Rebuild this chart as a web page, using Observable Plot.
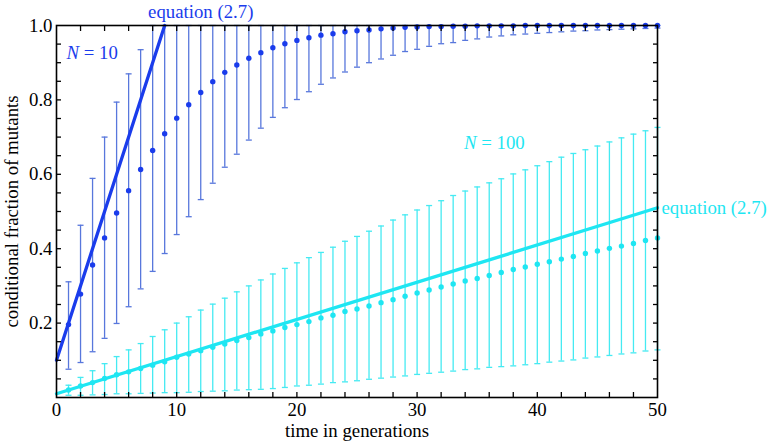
<!DOCTYPE html>
<html>
<head>
<meta charset="utf-8">
<script src="https://cdn.jsdelivr.net/npm/d3@7"></script>
<script src="https://cdn.jsdelivr.net/npm/@observablehq/plot@0.6"></script>
<style>
  html, body { margin: 0; padding: 0; background: #fff; }
  svg text { font-family: "Liberation Serif", "Times New Roman", serif !important; }
</style>
</head>
<body>
<div id="chart"></div>
<script>
// generations
const generations = [1,2,3,4,5,6,7,8,9,10,11,12,13,14,15,16,17,18,19,20,21,22,23,24,25,26,27,28,29,30,31,32,33,34,35,36,37,38,39,40,41,42,43,44,45,46,47,48,49,50];

// N = 10 : simulated mean and error bar bounds
const n10Mean = [0.196,0.278,0.356,0.429,0.496,0.556,0.613,0.664,0.709,0.751,
                 0.787,0.820,0.849,0.874,0.894,0.912,0.927,0.940,0.951,0.960,
                 0.967,0.974,0.978,0.983,0.986,0.988,0.991,0.993,0.995,0.996,
                 0.997,0.997,0.998,0.998,0.999,0.999,0.999,0.999,1.0,1.0,
                 1.0,1.0,1.0,1.0,1.0,1.0,1.0,1.0,1.0,1.0];
const n10Lo = [0.076,0.094,0.123,0.159,0.199,0.244,0.292,0.339,0.387,0.438,
               0.486,0.532,0.576,0.619,0.654,0.692,0.724,0.753,0.779,0.801,
               0.822,0.842,0.859,0.875,0.888,0.900,0.910,0.920,0.930,0.936,
               0.944,0.951,0.954,0.960,0.964,0.969,0.972,0.975,0.977,0.979,
               0.981,0.983,0.985,0.986,0.988,0.989,0.990,0.991,0.992,0.993];
const n10Hi = [0.311,0.463,0.589,0.700,0.794,0.870,0.935,1.0,1.0,1.0,
               1.0,1.0,1.0,1.0,1.0,1.0,1.0,1.0,1.0,1.0,
               1.0,1.0,1.0,1.0,1.0,1.0,1.0,1.0,1.0,1.0,
               1.0,1.0,1.0,1.0,1.0,1.0,1.0,1.0,1.0,1.0,
               1.0,1.0,1.0,1.0,1.0,1.0,1.0,1.0,1.0,1.0];

// N = 100 : simulated mean and error bar bounds
const n100Mean = [0.020,0.031,0.040,0.051,0.061,0.069,0.078,0.087,0.096,0.108,
                  0.117,0.126,0.135,0.144,0.153,0.161,0.171,0.179,0.188,0.196,
                  0.204,0.214,0.221,0.231,0.238,0.246,0.255,0.263,0.272,0.281,
                  0.289,0.297,0.305,0.313,0.320,0.328,0.336,0.344,0.351,0.358,
                  0.365,0.372,0.379,0.387,0.394,0.401,0.407,0.414,0.422,0.429];
const n100Lo = [0.006,0.006,0.007,0.008,0.010,0.010,0.011,0.012,0.013,0.013,
                0.014,0.016,0.017,0.018,0.020,0.021,0.022,0.024,0.027,0.031,
                0.033,0.036,0.040,0.042,0.045,0.049,0.052,0.055,0.058,0.062,
                0.065,0.068,0.071,0.075,0.077,0.081,0.083,0.085,0.088,0.091,
                0.095,0.098,0.101,0.106,0.109,0.113,0.117,0.120,0.125,0.128];
const n100Hi = [0.033,0.054,0.072,0.091,0.110,0.128,0.145,0.164,0.182,0.200,
                0.217,0.235,0.251,0.267,0.284,0.300,0.316,0.332,0.347,0.362,
                0.376,0.390,0.404,0.420,0.433,0.447,0.461,0.477,0.491,0.504,
                0.516,0.529,0.543,0.555,0.566,0.577,0.588,0.601,0.612,0.623,
                0.634,0.646,0.656,0.666,0.676,0.687,0.698,0.708,0.717,0.726];

// equation (2.7) line end points
const eqN10T = [0, 9];
const eqN10Y = [0.1, 1.0];
const eqN100T = [0, 50];
const eqN100Y = [0.01, 0.51];

// axis ticks
const xTickLabels = [0, 10, 20, 30, 40, 50];
const xMinorTicks = [2,4,6,8,10,12,14,16,18,20,22,24,26,28,30,32,34,36,38,40,42,44,46,48];
const yTickLabels = [0.2, 0.4, 0.6, 0.8, 1.0];
const yMinorTicks = [0.05,0.1,0.15,0.2,0.25,0.3,0.35,0.4,0.45,0.5,0.55,0.6,0.65,0.7,0.75,0.8,0.85,0.9,0.95];

// build tables
const n10 = generations.map((t, i) => ({t, mean: n10Mean[i], lo: n10Lo[i], hi: n10Hi[i]}));
const n100 = generations.map((t, i) => ({t, mean: n100Mean[i], lo: n100Lo[i], hi: n100Hi[i]}));
const eq10 = eqN10T.map((t, i) => ({t, y: eqN10Y[i]}));
const eq100 = eqN100T.map((t, i) => ({t, y: eqN100Y[i]}));

const BLUE = "#1a3cec";
const BLUE_BAR = "#5877dc";
const CYAN = "#1ee6f2";
const CYAN_BAR = "#45eaf2";
const FONT = '"Liberation Serif", "Times New Roman", serif';
const FS = 18.8;

const cap = {
  draw(context, size) {
    const w = Math.sqrt(size / Math.PI);
    context.moveTo(-w, 0);
    context.lineTo(w, 0);
  }
};

const noLabel = () => "";

const plot = Plot.plot({
  width: 768,
  height: 443,
  marginLeft: 56,
  marginRight: 111,
  marginTop: 25,
  marginBottom: 46,
  style: {fontFamily: FONT, fontSize: FS + "px", background: "#fff", color: "#000"},
  x: {domain: [0, 50], axis: null},
  y: {domain: [0, 1], axis: null},
  marks: [
    // N = 100 error bars
    Plot.ruleX(n100, {x: "t", y1: "lo", y2: "hi", stroke: CYAN_BAR, strokeWidth: 1.3}),
    Plot.dot(n100, {x: "t", y: "lo", symbol: cap, r: 3, stroke: CYAN_BAR, strokeWidth: 1.3, fill: "none"}),
    Plot.dot(n100, {x: "t", y: "hi", symbol: cap, r: 3, stroke: CYAN_BAR, strokeWidth: 1.3, fill: "none"}),
    // N = 10 error bars
    Plot.ruleX(n10, {x: "t", y1: "lo", y2: "hi", stroke: BLUE_BAR, strokeWidth: 1.3}),
    Plot.dot(n10, {x: "t", y: "lo", symbol: cap, r: 3, stroke: BLUE_BAR, strokeWidth: 1.3, fill: "none"}),
    Plot.dot(n10, {x: "t", y: "hi", symbol: cap, r: 3, stroke: BLUE_BAR, strokeWidth: 1.3, fill: "none"}),
    // equation lines
    Plot.line(eq100, {x: "t", y: "y", stroke: CYAN, strokeWidth: 3.3}),
    Plot.line(eq10, {x: "t", y: "y", stroke: BLUE, strokeWidth: 3.3}),
    // means
    Plot.dot(n100, {x: "t", y: "mean", r: 2.7, fill: CYAN, stroke: "none"}),
    Plot.dot(n10, {x: "t", y: "mean", r: 2.7, fill: BLUE, stroke: "none"}),
    // frame
    Plot.frame({stroke: "#000", strokeWidth: 1.6}),
    // inward ticks
    Plot.axisX(xMinorTicks, {anchor: "bottom", tickSize: -5, tickFormat: noLabel, label: null, strokeWidth: 1.3}),
    Plot.axisX(xMinorTicks, {anchor: "top", tickSize: -5, tickFormat: noLabel, label: null, strokeWidth: 1.3}),
    Plot.axisY(yMinorTicks, {anchor: "left", tickSize: -5, tickFormat: noLabel, label: null, strokeWidth: 1.3}),
    Plot.axisY(yMinorTicks, {anchor: "right", tickSize: -5, tickFormat: noLabel, label: null, strokeWidth: 1.3}),
    // tick labels
    Plot.axisX(xTickLabels, {anchor: "bottom", tickSize: 0, tickPadding: 5, fontSize: FS, label: null, fill: "#000"}),
    Plot.axisY(yTickLabels, {anchor: "left", tickSize: 0, tickPadding: 4, fontSize: FS, tickFormat: d3.format(".1f"), label: null, fill: "#000"}),
    // axis titles
    Plot.text(["time in generations"], {frameAnchor: "bottom", lineAnchor: "middle", dy: 33, fontSize: FS, fill: "#000"}),
    Plot.text(["conditional fraction of mutants"], {frameAnchor: "left", textAnchor: "middle", lineAnchor: "middle", dx: -45, rotate: -90, fontSize: FS, fill: "#000"}),
    // annotations
    Plot.text(["equation (2.7)"], {x: 12, y: 1, dy: -14, fontSize: FS, fill: BLUE}),
    Plot.text(["equation (2.7)"], {x: 50, y: 0.51, dx: 4, textAnchor: "start", fontSize: FS, fill: CYAN}),
    Plot.text(["N = 10"], {x: 0, y: 0.925, dx: 10, textAnchor: "start", fontSize: FS, fill: BLUE}),
    Plot.text(["N = 100"], {x: 33.9, y: 0.683, textAnchor: "start", fontSize: FS, fill: CYAN})
  ]
});

// italicise the N in the series labels
plot.querySelectorAll("text").forEach(t => {
  const s = t.textContent;
  if (s === "N = 10" || s === "N = 100") {
    const rest = s.slice(1);
    t.textContent = "";
    const ns = "http://www.w3.org/2000/svg";
    const a = document.createElementNS(ns, "tspan");
    a.setAttribute("font-style", "italic");
    a.textContent = "N";
    const b = document.createElementNS(ns, "tspan");
    b.textContent = rest;
    t.appendChild(a);
    t.appendChild(b);
  }
});

document.getElementById("chart").appendChild(plot);
</script>
</body>
</html>
